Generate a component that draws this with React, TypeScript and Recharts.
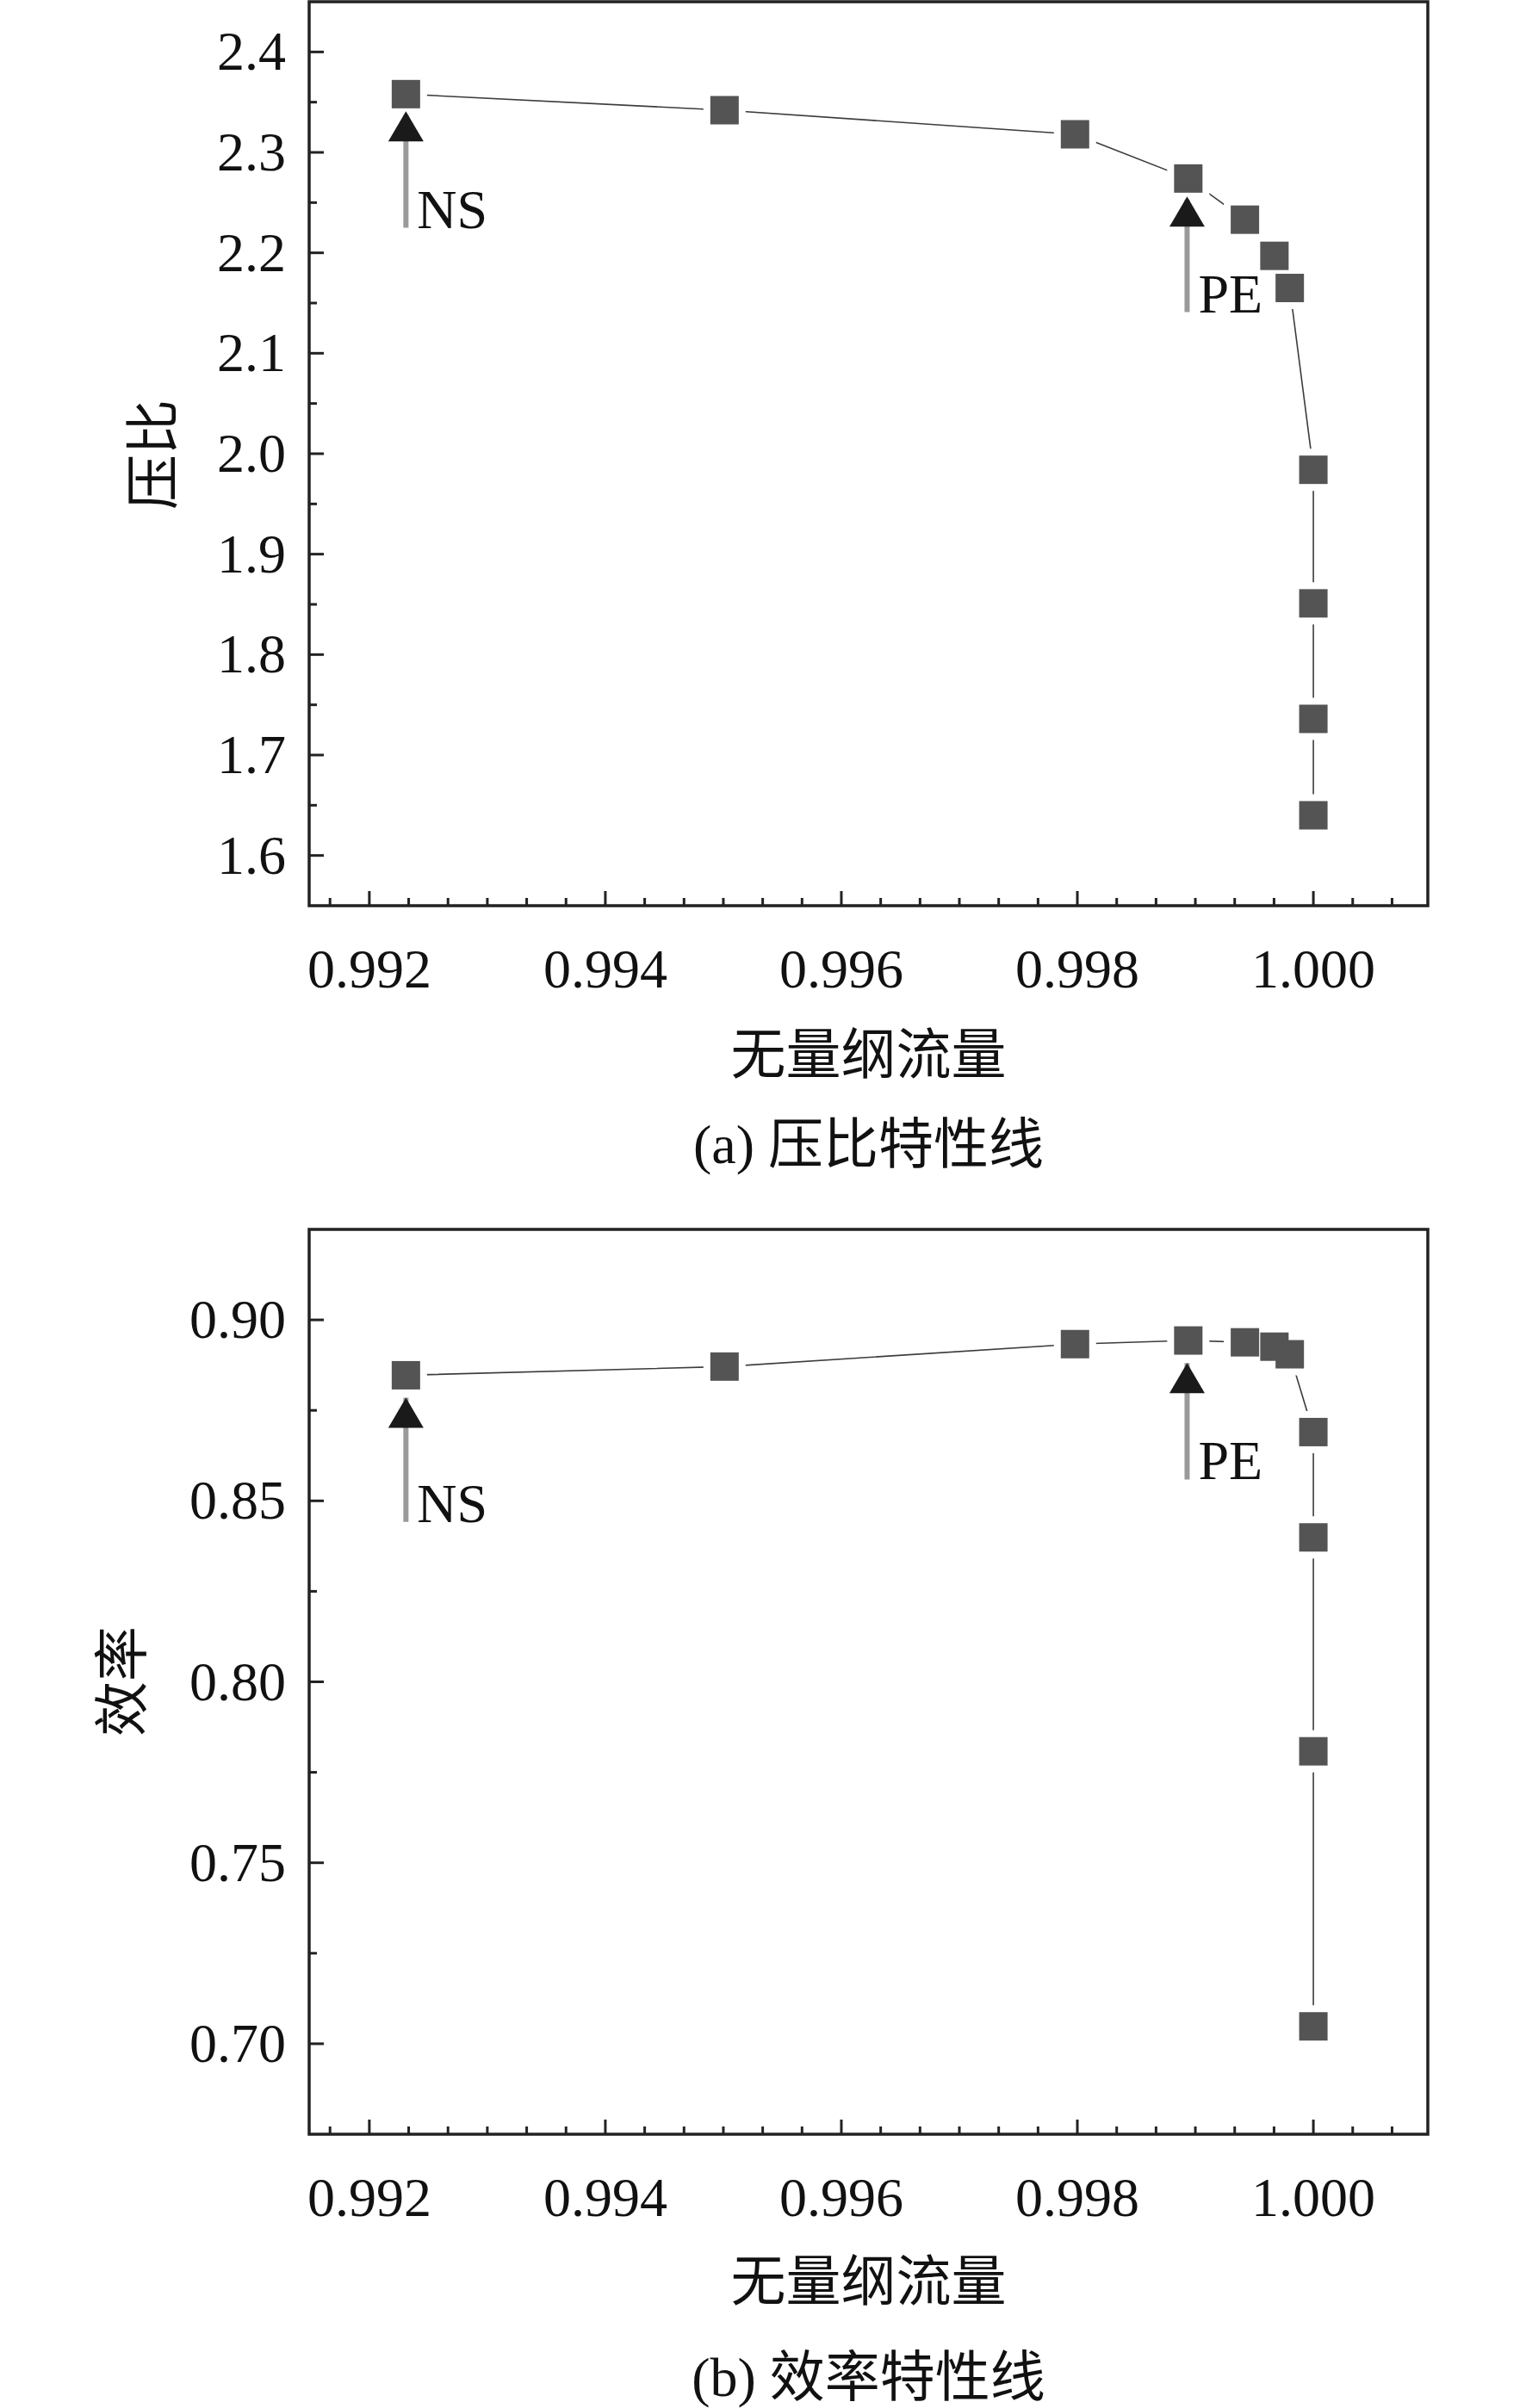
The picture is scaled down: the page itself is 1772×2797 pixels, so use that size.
import React from "react";
import {
  ComposedChart,
  Line,
  XAxis,
  YAxis,
  ReferenceArea,
  ReferenceLine,
  ReferenceDot,
} from "recharts";

// dimensionless mass flow, shared by both panels
const flow = [0.99231, 0.99501, 0.99798, 0.99894, 0.99942, 0.99967, 0.9998, 1.0, 1.0, 1.0, 1.0];
const pressureRatio = [2.358, 2.342, 2.318, 2.274, 2.233, 2.197, 2.165, 1.984, 1.851, 1.736, 1.64];
const efficiency = [0.8847, 0.8871, 0.8933, 0.8943, 0.8938, 0.8926, 0.8905, 0.869, 0.8399, 0.7808, 0.7048];

const xMajor = [0.992, 0.994, 0.996, 0.998, 1.0];
const yMajorA = [1.6, 1.7, 1.8, 1.9, 2.0, 2.1, 2.2, 2.3, 2.4];
const yMajorB = [0.7, 0.75, 0.8, 0.85, 0.9];

const xDomain = [0.99149, 1.00097];
const yDomainA = [1.55, 2.45];
const yDomainB = [0.675, 0.925];

// annotation arrows: name, flow, shaft tail value, arrow tip value
const arrowsA = [
  { name: "NS", flow: 0.99231, tail: 2.225, tip: 2.341 },
  { name: "PE", flow: 0.99893, tail: 2.141, tip: 2.256 },
];
const arrowsB = [
  { name: "NS", flow: 0.99231, tail: 0.8442, tip: 0.8785 },
  { name: "PE", flow: 0.99893, tail: 0.8559, tip: 0.8881 },
];

const FONT = "'Liberation Serif', 'Noto Sans CJK SC', serif";
const AXIS = "#222";

// minor ticks between the majors
const subdivide = (majors: number[], parts: number, before: number, after: number) => {
  const step = (majors[1] - majors[0]) / parts;
  const out: number[] = [];
  for (let i = -before; i <= (majors.length - 1) * parts + after; i++) {
    out.push(+(majors[0] + i * step).toFixed(7));
  }
  return out;
};

const isMajor = (v: number, majors: number[]) => majors.some((m) => Math.abs(m - v) < 1e-7);

const XTick = (props: any) => {
  const { x, y, payload } = props;
  const major = isMajor(payload.value, xMajor);
  return (
    <g>
      <line x1={x} y1={y} x2={x} y2={y - (major ? 17 : 9)} stroke={AXIS} strokeWidth={3} />
      {major && (
        <text x={x} y={y + 95} textAnchor="middle" fontSize={64} fontFamily={FONT} fill="#111">
          {payload.value.toFixed(3)}
        </text>
      )}
    </g>
  );
};

const makeYTick = (majors: number[], digits: number) => (props: any) => {
  const { x, y, payload } = props;
  const major = isMajor(payload.value, majors);
  return (
    <g>
      <line x1={x} y1={y} x2={x + (major ? 17 : 9)} y2={y} stroke={AXIS} strokeWidth={3} />
      {major && (
        <text x={x - 27} y={y + 21} textAnchor="end" fontSize={64} fontFamily={FONT} fill="#111">
          {payload.value.toFixed(digits)}
        </text>
      )}
    </g>
  );
};

const haloDot = (props: any) => (
  <rect key={`h${props.index}`} x={props.cx - 24.5} y={props.cy - 24.5} width={49} height={49} fill="#fff" />
);

const squareDot = (props: any) => (
  <rect key={`s${props.index}`} x={props.cx - 16.5} y={props.cy - 16.5} width={33} height={33} fill="#545454" />
);

const triangle = (props: any) => (
  <polygon
    points={`${props.cx},${props.cy} ${props.cx - 20.5},${props.cy + 35} ${props.cx + 20.5},${props.cy + 35}`}
    fill="#1a1a1a"
  />
);

const arrowText = (name: string) => (props: any) => (
  <text x={props.cx + 13} y={props.cy} fontSize={64} fontFamily={FONT} fill="#111">
    {name}
  </text>
);

interface PanelProps {
  values: number[];
  yMajor: number[];
  yDomain: number[];
  yDigits: number;
  arrows: typeof arrowsA;
  height: number;
  margin: { top: number; right: number; left: number; bottom: number };
}

const Panel: React.FC<PanelProps> = ({ values, yMajor, yDomain, yDigits, arrows, height, margin }) => {
  const rows = flow.map((f, i) => ({ flow: f, v: values[i] }));
  const xTicks = subdivide(xMajor, 6, 1, 2);
  const yTicks = subdivide(yMajor, 2, 0, 0);
  return (
    <ComposedChart width={1772} height={height} data={rows} margin={margin}>
      <XAxis
        type="number"
        dataKey="flow"
        domain={xDomain}
        ticks={xTicks}
        interval={0}
        allowDataOverflow
        axisLine={false}
        tickLine={false}
        tickSize={0}
        tickMargin={0}
        height={60}
        tick={XTick}
      />
      <YAxis
        type="number"
        domain={yDomain}
        ticks={yTicks}
        interval={0}
        allowDataOverflow
        axisLine={false}
        tickLine={false}
        tickSize={0}
        tickMargin={0}
        width={60}
        tick={makeYTick(yMajor, yDigits)}
      />
      <ReferenceArea
        x1={xDomain[0]}
        x2={xDomain[1]}
        y1={yDomain[0]}
        y2={yDomain[1]}
        fill="none"
        fillOpacity={0}
        stroke={AXIS}
        strokeWidth={3.5}
      />
      <Line
        type="linear"
        dataKey="v"
        stroke="#3c3c3c"
        strokeWidth={1.6}
        dot={haloDot}
        activeDot={false}
        isAnimationActive={false}
      />
      <Line
        type="linear"
        dataKey="v"
        stroke="none"
        dot={squareDot}
        activeDot={false}
        isAnimationActive={false}
      />
      {arrows.map((a) => (
        <ReferenceLine
          key={`l${a.name}`}
          segment={[
            { x: a.flow, y: a.tail },
            { x: a.flow, y: a.tip },
          ]}
          stroke="#9a9a9a"
          strokeWidth={6}
        />
      ))}
      {arrows.map((a) => (
        <ReferenceDot key={`t${a.name}`} x={a.flow} y={a.tip} shape={triangle} />
      ))}
      {arrows.map((a) => (
        <ReferenceDot key={`n${a.name}`} x={a.flow} y={a.tail} shape={arrowText(a.name)} />
      ))}
    </ComposedChart>
  );
};

const textStyle: React.CSSProperties = {
  position: "absolute",
  fontFamily: FONT,
  fontSize: 64,
  lineHeight: "64px",
  color: "#111",
  whiteSpace: "nowrap",
};

const centered = (top: number): React.CSSProperties => ({
  ...textStyle,
  left: 359,
  width: 1299,
  textAlign: "center",
  top: top - 32,
});

const rotated = (cx: number, cy: number): React.CSSProperties => ({
  ...textStyle,
  left: cx,
  top: cy,
  transform: "translate(-50%, -50%) rotate(-90deg)",
});

export default function App() {
  return (
    <div style={{ position: "relative", width: 1772, height: 2797, background: "#fff" }}>
      <style>{"body{margin:0}"}</style>
      <div style={{ position: "absolute", left: 0, top: 0 }}>
        <Panel
          values={pressureRatio}
          yMajor={yMajorA}
          yDomain={yDomainA}
          yDigits={1}
          arrows={arrowsA}
          height={1400}
          margin={{ top: 2, right: 114, left: 299, bottom: 288 }}
        />
      </div>
      <div style={{ position: "absolute", left: 0, top: 1400 }}>
        <Panel
          values={efficiency}
          yMajor={yMajorB}
          yDomain={yDomainB}
          yDigits={2}
          arrows={arrowsB}
          height={1397}
          margin={{ top: 28, right: 114, left: 299, bottom: 258 }}
        />
      </div>
      <div style={rotated(179, 528)}>压比</div>
      <div style={rotated(143, 1953)}>效率</div>
      <div style={centered(1226)}>无量纲流量</div>
      <div style={centered(1330)}>(a) 压比特性线</div>
      <div style={centered(2651)}>无量纲流量</div>
      <div style={centered(2762)}>(b) 效率特性线</div>
    </div>
  );
}
